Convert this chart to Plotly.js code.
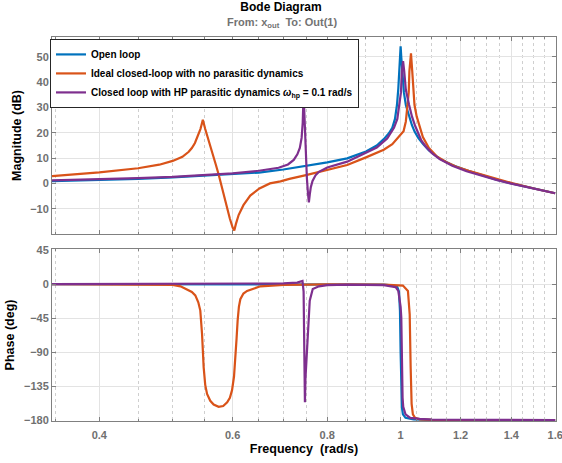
<!DOCTYPE html>
<html><head><meta charset="utf-8">
<script src="https://cdn.plot.ly/plotly-3.0.1.min.js"></script>
<style>html,body{margin:0;padding:0;background:#fff}#chart{width:562px;height:463px}</style>
</head><body><div id="chart"></div><script>
// ---- tick labels ----
const freqTicks = [0.4, 0.6, 0.8, 1, 1.2, 1.4, 1.6];
const freqTickText = ['0.4', '0.6', '0.8', '1', '1.2', '1.4', '1.6'];
const freqMinorTicks = [0.35, 0.45, 0.5, 0.55, 0.65, 0.7, 0.75, 0.85, 0.9, 0.95, 1.05, 1.1, 1.15, 1.25, 1.3, 1.35, 1.45, 1.5, 1.55];
const magTicks = [-10, 0, 10, 20, 30, 40, 50];
const phaseTicks = [-180, -135, -90, -45, 0, 45];
const seriesNames = ['Open loop', 'Ideal closed-loop with no parasitic dynamics',
  'Closed loop with HP parasitic dynamics <i>ω</i><sub>hp</sub> = 0.1 rad/s'];

// ---- Open loop (blue) ----
const openMagFreq = [0.3464, 0.4, 0.45, 0.5, 0.55, 0.6, 0.65, 0.7, 0.75, 0.8, 0.85, 0.9, 0.93, 0.95, 0.965, 0.975, 0.983, 0.989, 0.993, 0.9955, 0.998, 1.0, 1.002, 1.0055, 1.01, 1.016, 1.025, 1.035, 1.043, 1.055, 1.07, 1.09, 1.126, 1.17, 1.222, 1.28, 1.338, 1.4, 1.5, 1.6];
const openMag = [0.9, 1.3, 1.8, 2.4, 3.0, 3.6, 4.3, 5.5, 6.8, 8.3, 9.9, 12.6, 15.0, 17.5, 19.8, 22.0, 25.5, 31.1, 37.5, 44.3, 50, 54.2, 50, 44.3, 36, 31, 27, 23, 20.6, 18, 15.7, 13, 9.8, 7.3, 5.2, 3.2, 1.5, 0.0, -2.1, -3.9];
const openPhFreq = [0.3464, 0.8, 0.95, 0.98, 0.99, 0.995, 0.998, 1.0, 1.002, 1.004, 1.007, 1.015, 1.04, 1.1, 1.6];
const openPh = [0, -0.2, -0.8, -2, -4, -10, -35, -90, -145, -163, -172, -176.5, -178.5, -179.3, -179.7];

// ---- Ideal closed loop (orange) ----
const idealMagFreq = [0.3464, 0.4, 0.45, 0.48, 0.5, 0.515, 0.525, 0.53, 0.535, 0.538, 0.541, 0.544, 0.546, 0.548, 0.552, 0.558, 0.565, 0.57, 0.575, 0.582, 0.589, 0.595, 0.6, 0.603, 0.606, 0.611, 0.62, 0.633, 0.651, 0.672, 0.694, 0.713, 0.75, 0.78, 0.8, 0.85, 0.9, 0.92, 0.95, 0.975, 0.995, 1.009, 1.016, 1.022, 1.025, 1.027, 1.032, 1.036, 1.039, 1.043, 1.05, 1.063, 1.07, 1.09, 1.115, 1.15, 1.185, 1.23, 1.272, 1.34, 1.407, 1.5, 1.6];
const idealMag = [2.9, 4.4, 6.0, 7.4, 8.9, 10.5, 12.5, 14, 16, 17.8, 19.5, 21.5, 23.3, 25.2, 21.5, 17, 12, 7.5, 3.5, -3, -9.2, -14, -17.5, -18.6, -16, -12.5, -8.6, -4.8, -2.0, 0.0, 0.8, 1.8, 3.3, 4.5, 5.2, 7.3, 10.3, 11.5, 13.3, 15.5, 18.5, 20.6, 24.5, 31.1, 36, 44.3, 51.4, 44.3, 36.5, 31.1, 26.5, 20.6, 18.3, 14.0, 10.8, 8.4, 6.6, 5.0, 3.7, 1.7, 0, -2.0, -3.9];
const idealPhFreq = [0.3464, 0.45, 0.5, 0.512, 0.522, 0.53, 0.5356, 0.5405, 0.5438, 0.5467, 0.5494, 0.552, 0.5551, 0.5605, 0.5663, 0.575, 0.583, 0.5901, 0.595, 0.5989, 0.6025, 0.6049, 0.6072, 0.6092, 0.6115, 0.6142, 0.62, 0.6269, 0.6528, 0.7007, 0.8, 0.95, 1.007, 1.0225, 1.028, 1.031, 1.034, 1.038, 1.045, 1.06, 1.1, 1.6];
const idealPh = [0, -0.3, -1, -3, -6.6, -10.5, -15, -24, -35, -66, -110, -133, -145, -154, -159, -162, -161, -156, -150, -140, -122, -101, -72, -48, -30, -20, -12.5, -9, -3, -1, -0.3, -0.8, -2, -9, -40, -110, -158, -172, -176.5, -178.5, -179.2, -179.6];

// ---- Closed loop with HP parasitic dynamics (purple) ----
const hpMagFreq = [0.3464, 0.4, 0.45, 0.5, 0.55, 0.6, 0.65, 0.69, 0.71, 0.7225, 0.7305, 0.736, 0.74, 0.7425, 0.7445, 0.7465, 0.749, 0.752, 0.7545, 0.7565, 0.7585, 0.761, 0.765, 0.772, 0.78, 0.79, 0.8, 0.85, 0.894, 0.93, 0.96, 0.98, 0.99, 0.997, 1.001, 1.004, 1.0075, 1.011, 1.016, 1.026, 1.035, 1.045, 1.054, 1.065, 1.08, 1.1, 1.126, 1.17, 1.222, 1.28, 1.338, 1.4, 1.5, 1.6];
const hpMag = [1.2, 1.6, 2.1, 2.6, 3.2, 4.0, 5.0, 6.2, 7.5, 9.3, 11.5, 14, 18, 24, 35.4, 24, 12, 2, -4, -7.5, -4.5, -1.5, 1.0, 3.2, 4.6, 5.5, 6.3, 8.6, 11.6, 14.2, 17.8, 22, 25.5, 31.1, 36, 44.3, 48.4, 44.3, 37, 31.1, 26.5, 22.8, 20.4, 17, 14.5, 12, 9.6, 7.0, 4.8, 3.0, 1.4, -0.1, -2.1, -3.9];
const hpPhFreq = [0.3464, 0.6, 0.7, 0.73, 0.742, 0.7445, 0.7455, 0.7465, 0.7475, 0.7487, 0.752, 0.7547, 0.7585, 0.7655, 0.78, 0.8, 0.85, 0.95, 0.985, 0.993, 1.0, 1.002, 1.004, 1.006, 1.008, 1.015, 1.03, 1.06, 1.1, 1.6];
const hpPh = [0, 0.2, 0.8, 2, 4.0, -10, -90, -150, -156, -125, -90, -66, -22, -6.6, -3, -1.5, -0.8, -1.5, -4, -9, -30, -44, -110, -150, -162, -172, -176.5, -178, -178.8, -179.5];

const colors = ['#0072BD', '#D95319', '#7E2F8E'];
const FONT = '"Liberation Sans", Arial, Helvetica, sans-serif';
const LW = 2.2;

function line(x, y, i, xa, ya, show) {
  return {x: x, y: y, type: 'scatter', mode: 'lines', name: seriesNames[i], legendgroup: 'g' + i,
    showlegend: show, xaxis: xa, yaxis: ya, line: {color: colors[i], width: LW}, hoverinfo: 'skip'};
}
const data = [
  line(openMagFreq, openMag, 0, 'x', 'y', true),
  line(idealMagFreq, idealMag, 1, 'x', 'y', true),
  line(hpMagFreq, hpMag, 2, 'x', 'y', true),
  line(openPhFreq, openPh, 0, 'x2', 'y2', false),
  line(idealPhFreq, idealPh, 1, 'x2', 'y2', false),
  line(hpPhFreq, hpPh, 2, 'x2', 'y2', false)
];

const AX = '#808080';
const tickFont = {family: FONT, size: 11, color: '#707070', weight: 'bold'};
const xRange = [Math.log10(0.3464), Math.log10(1.604)];
function xAxis(extra) {
  return Object.assign({
    type: 'log', range: xRange, tickmode: 'array', tickvals: freqTicks, ticktext: freqTickText,
    ticks: 'inside', ticklen: 4, tickcolor: AX, showline: true, linecolor: AX, linewidth: 1, mirror: 'ticks',
    showgrid: true, gridcolor: '#e3e3e3', gridwidth: 1, zeroline: false, tickfont: tickFont,
    ticklabeloverflow: 'allow',
    minor: {tickmode: 'array', tickvals: freqMinorTicks, ticks: 'inside', ticklen: 2, tickcolor: AX,
      showgrid: true, gridcolor: '#cfcfcf', griddash: 'dot', gridwidth: 1}
  }, extra);
}
function yAxis(extra) {
  return Object.assign({
    tickmode: 'array', ticks: 'inside', ticklen: 4, tickcolor: AX, showline: true, linecolor: AX, linewidth: 1,
    mirror: 'ticks', showgrid: true, gridcolor: '#e3e3e3', gridwidth: 1, zeroline: false, tickfont: tickFont
  }, extra);
}
const labelFont = {family: FONT, size: 12.5, color: '#000', weight: 'bold'};

const layout = {
  width: 562, height: 463, paper_bgcolor: '#fff', plot_bgcolor: '#fff',
  margin: {l: 52, r: 6, t: 37, b: 42},
  font: {family: FONT},
  title: {text: 'Bode Diagram', x: 0.5, xref: 'container', xanchor: 'center', y: 0.986, yref: 'container', yanchor: 'middle',
    font: {family: FONT, size: 12, color: '#000', weight: 'bold'}},
  xaxis: xAxis({anchor: 'y', showticklabels: false}),
  yaxis: yAxis({anchor: 'x', domain: [0.487, 1], range: [-20, 57.9], tickvals: magTicks,
    title: {text: 'Magnitude (dB)', font: labelFont, standoff: 5}}),
  xaxis2: xAxis({anchor: 'y2', ticklabelstandoff: 4, title: {text: 'Frequency\u00a0 (rad/s)', font: labelFont, standoff: 4}}),
  yaxis2: yAxis({anchor: 'x2', domain: [0, 0.448], range: [-180.7, 46.3], tickvals: phaseTicks,
    title: {text: 'Phase (deg)', font: labelFont, standoff: 6}}),
  showlegend: true,
  legend: {x: -0.004, y: 0.995, xanchor: 'left', yanchor: 'top', bgcolor: '#fff', bordercolor: '#262626', borderwidth: 1,
    font: {family: FONT, size: 10, color: '#000', weight: 'bold'}, tracegroupgap: 0},
  annotations: [{text: 'From: x<sub>out</sub>  To: Out(1)', xref: 'paper', yref: 'paper', x: 0.456, y: 1.0365,
    xanchor: 'center', yanchor: 'middle', showarrow: false, font: {family: FONT, size: 11, color: '#737373', weight: 'bold'}}]
};
Plotly.newPlot('chart', data, layout, {staticPlot: true, displayModeBar: false});
</script></body></html>
